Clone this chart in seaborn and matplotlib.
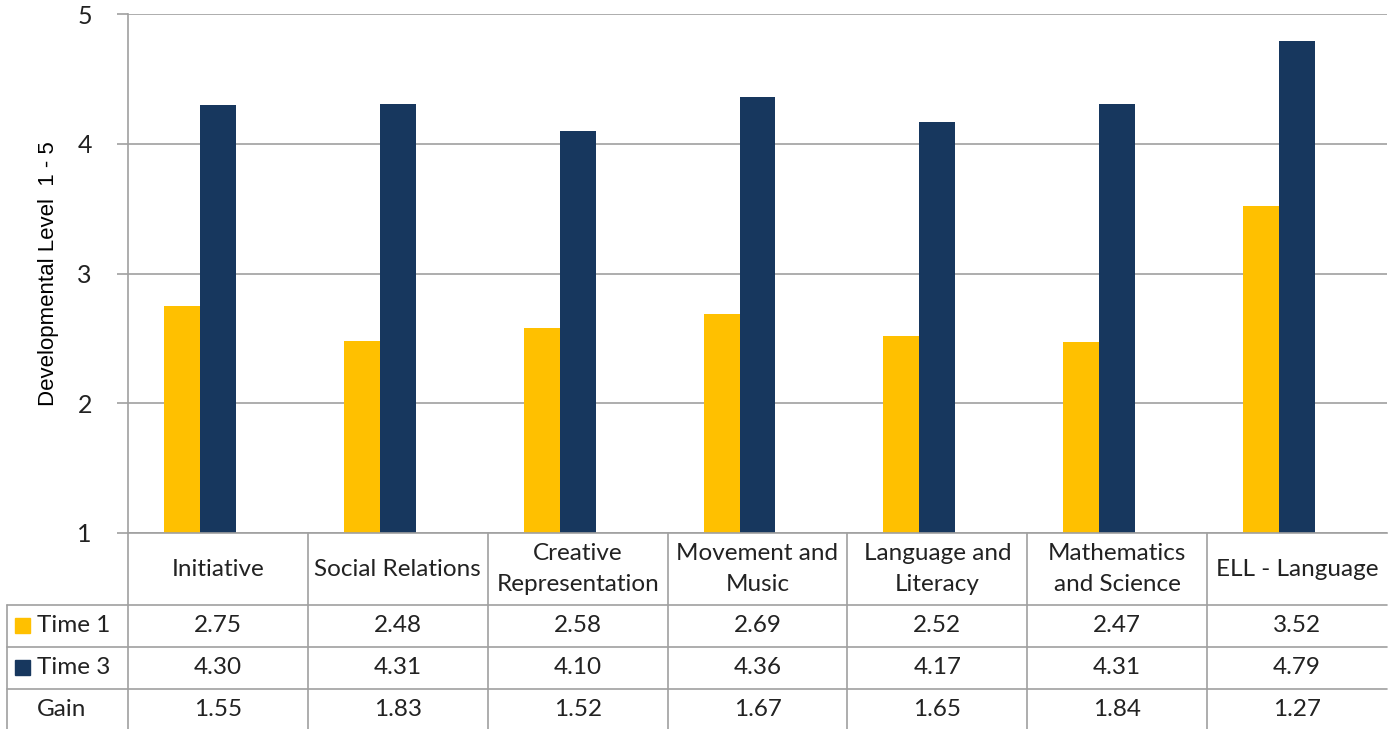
import numpy as np
import pandas as pd
import matplotlib
matplotlib.use('Agg')
import matplotlib.pyplot as plt
from matplotlib.lines import Line2D
from matplotlib.patches import Rectangle
import seaborn as sns

# Data
categories = ['Initiative', 'Social Relations', 'Creative\nRepresentation', 'Movement and\nMusic',
              'Language and\nLiteracy', 'Mathematics\nand Science', 'ELL - Language']
time1 = [2.75, 2.48, 2.58, 2.69, 2.52, 2.47, 3.52]
time3 = [4.30, 4.31, 4.10, 4.36, 4.17, 4.31, 4.79]
gain = [1.55, 1.83, 1.52, 1.67, 1.65, 1.84, 1.27]
series = ['Time 1', 'Time 3', 'Gain']
colors = ['#FFC000', '#17375E', '#FFFFFF']
yticks = [1, 2, 3, 4, 5]

df = pd.DataFrame({
    'category': categories * 3,
    'series': [s for s in series for _ in categories],
    'value': time1 + time3 + gain,
})

sns.set_theme(style='white')
plt.rcParams['font.family'] = ['Lato', 'DejaVu Sans']

W, H = 1395, 729
fig = plt.figure(figsize=(W / 100, H / 100), dpi=100)

def px(x):
    return x / W

def py(y):
    return 1 - y / H

left, right, top, bottom = 128, 1387, 14, 533
ax = fig.add_axes([px(left), py(bottom), px(right - left), (bottom - top) / H])

sns.barplot(data=df, x='category', y='value', hue='series', hue_order=series,
            palette=colors, width=0.6, ax=ax, legend=False, saturation=1,
            linewidth=0, edgecolor='none')
# Gain is only shown in the table
for bar in ax.containers[2]:
    bar.set_visible(False)

grid_c = '#A0A0A0'
txt_c = '#222222'
ax.set_ylim(1, 5)
ax.set_yticks(yticks)
ax.set_yticklabels([str(t) for t in yticks], fontsize=18, color=txt_c)
ax.set_xticklabels([])
ax.set_xlabel('')
ax.set_ylabel('Developmental Level  1 - 5', fontsize=16, color='black',
              family=['Liberation Sans Narrow', 'Liberation Sans'], labelpad=13)
ax.yaxis.grid(True, color=grid_c, linewidth=1.2)
ax.set_axisbelow(True)
ax.tick_params(axis='y', length=8, color=grid_c, width=1.2, pad=18, direction='out', left=True)
ax.tick_params(axis='x', length=0)
for s in ['top', 'right']:
    ax.spines[s].set_visible(False)
ax.spines['left'].set_color(grid_c)
ax.spines['left'].set_linewidth(1.2)
ax.spines['bottom'].set_color(grid_c)
ax.spines['bottom'].set_linewidth(1.2)

# Data table below the plot
ncol = len(categories)
colw = (right - left) / ncol
edges = [left + k * colw for k in range(ncol + 1)]
row_lines = [605, 647, 689]
row_centers = [626, 668, 710]

def line(x0, y0, x1, y1):
    fig.add_artist(Line2D([px(x0), px(x1)], [py(y0), py(y1)], color=grid_c, linewidth=1.2))

for x in edges[:-1]:
    line(x, bottom, x, H)
line(7, row_lines[0], 7, H)
for y in row_lines:
    line(7, y, right, y)

fs = 17.5
for i, cat in enumerate(categories):
    cx = (edges[i] + edges[i + 1]) / 2
    fig.text(px(cx), py(569), cat, ha='center', va='center', fontsize=fs,
             color=txt_c, linespacing=1.6)
    for vals, yc in zip([time1, time3, gain], row_centers):
        fig.text(px(cx), py(yc), f'{vals[i]:.2f}', ha='center', va='center',
                 fontsize=fs, color=txt_c)

for name, c, yc in zip(series, colors, row_centers):
    if name != 'Gain':
        fig.add_artist(Rectangle((px(15), py(yc + 7)), px(15), 15 / H, color=c,
                                 transform=fig.transFigure))
    fig.text(px(37), py(yc), name, ha='left', va='center', fontsize=fs, color=txt_c)

fig.savefig('out.png', dpi=100)
